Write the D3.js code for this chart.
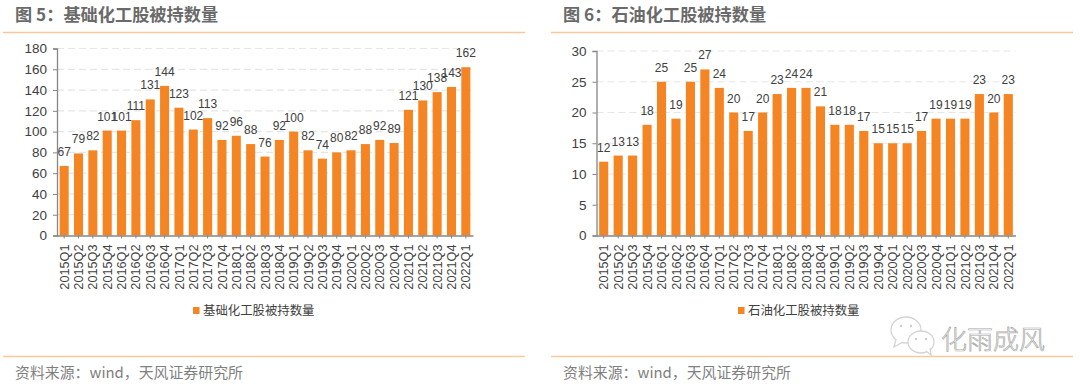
<!DOCTYPE html>
<html>
<head>
<meta charset="utf-8">
<script src="https://cdn.jsdelivr.net/npm/d3@7/dist/d3.min.js"></script>
<style>
  html, body { margin: 0; padding: 0; background: #fff; }
  svg { display: block; }
  text { font-family: "Liberation Sans", Arial, sans-serif; }
  .cjk { font-family: "Noto Sans CJK SC", sans-serif; }
</style>
</head>
<body>
<svg id="chart" width="1080" height="386"></svg>
<script>
var quarters = ["2015Q1","2015Q2","2015Q3","2015Q4","2016Q1","2016Q2","2016Q3","2016Q4",
  "2017Q1","2017Q2","2017Q3","2017Q4","2018Q1","2018Q2","2018Q3","2018Q4",
  "2019Q1","2019Q2","2019Q3","2019Q4","2020Q1","2020Q2","2020Q3","2020Q4",
  "2021Q1","2021Q2","2021Q3","2021Q4","2022Q1"];
var basicChem = [67,79,82,101,101,111,131,144,123,102,113,92,96,88,76,92,100,82,74,80,82,88,92,89,121,130,138,143,162];
var oilChem = [12,13,13,18,25,19,25,27,24,20,17,20,23,24,24,21,18,18,17,15,15,15,17,19,19,19,23,20,23];
var basicTicks = [0,20,40,60,80,100,120,140,160,180];
var oilTicks = [0,5,10,15,20,25,30];

var ORANGE = "#f58423";
var RULE = "#fbc79d";
var svg = d3.select("#chart");

function drawPanel(o) {
  // title and the two rules
  svg.append("text").attr("class", "cjk")
    .attr("x", o.ruleX0 + 12).attr("y", 21)
    .attr("font-size", 17.2).attr("font-weight", 700).attr("fill", "#6a6a6a")
    .text(o.title);
  [32, 356].forEach(function(y) {
    svg.append("line")
      .attr("x1", o.ruleX0).attr("x2", o.ruleX1)
      .attr("y1", y + 0.5).attr("y2", y + 0.5)
      .attr("stroke", RULE).attr("stroke-width", 1.4);
  });
  svg.append("text").attr("class", "cjk")
    .attr("x", o.ruleX0 + 12).attr("y", 378)
    .attr("font-size", 14.9).attr("fill", "#7f7f7f")
    .text("资料来源：wind，天风证券研究所");

  var x = d3.scaleBand().domain(quarters).range([o.left, o.right]).paddingInner(0.37).paddingOuter(0.185);
  var y = d3.scaleLinear().domain([0, o.max]).range([235.5, o.top]);

  var g = svg.append("g");

  // dashed grid
  g.selectAll(".grid").data(o.ticks.slice(1)).enter().append("line")
    .attr("x1", o.left).attr("x2", o.right)
    .attr("y1", function(d) { return y(d); })
    .attr("y2", function(d) { return y(d); })
    .attr("stroke", "#e6e6e6").attr("stroke-width", 1.2)
    .attr("stroke-dasharray", "7,4");

  // bars
  g.selectAll(".bar").data(o.values).enter().append("rect")
    .attr("x", function(d, i) { return x(quarters[i]); })
    .attr("y", function(d) { return y(d); })
    .attr("width", x.bandwidth())
    .attr("height", function(d) { return y(0) - y(d); })
    .attr("fill", ORANGE);

  // value labels
  g.selectAll(".val").data(o.values).enter().append("text")
    .attr("x", function(d, i) { return x(quarters[i]) + x.bandwidth() / 2; })
    .attr("y", function(d) { return y(d) - 10; })
    .attr("text-anchor", "middle")
    .attr("font-size", 12).attr("fill", "#404040")
    .text(function(d) { return d; });

  // axes
  var yAxis = g.append("g").attr("transform", "translate(" + o.left + ",0)")
    .call(d3.axisLeft(y).tickValues(o.ticks).tickSize(4).tickPadding(6));
  var xAxis = g.append("g").attr("transform", "translate(0,235.5)")
    .call(d3.axisBottom(x).tickSize(3).tickSizeOuter(0));
  yAxis.selectAll("text").attr("font-size", 13.5).attr("font-family", null).attr("fill", "#404040");
  xAxis.selectAll("text")
    .attr("font-size", 12.7).attr("font-family", null).attr("fill", "#404040")
    .attr("text-anchor", "end")
    .attr("transform", "rotate(-90)")
    .attr("x", -9).attr("y", 0).attr("dy", "0.36em");
  g.selectAll(".domain").attr("stroke", "#868686").attr("stroke-width", 1.3);
  g.selectAll(".tick line").attr("stroke", "#868686");

  // legend
  svg.append("rect").attr("x", o.legendX).attr("y", 307).attr("width", 6.5).attr("height", 7).attr("fill", ORANGE);
  svg.append("text").attr("class", "cjk")
    .attr("x", o.legendX + 10).attr("y", 315)
    .attr("font-size", 12.4).attr("fill", "#404040")
    .text(o.legend);
}

drawPanel({
  title: "图 5：基础化工股被持数量", legend: "基础化工股被持数量",
  values: basicChem, ticks: basicTicks, max: 180,
  left: 57, right: 473, top: 48.5, ruleX0: 3, ruleX1: 525, legendX: 193
});
drawPanel({
  title: "图 6：石油化工股被持数量", legend: "石油化工股被持数量",
  values: oilChem, ticks: oilTicks, max: 30,
  left: 596.5, right: 1015.5, top: 51, ruleX0: 551, ruleX1: 1073, legendX: 738
});

// watermark
var wm = svg.append("g").attr("fill", "#fff").attr("stroke", "#d4d4d4").attr("stroke-width", 1.3);
wm.append("ellipse").attr("cx", 906).attr("cy", 330).attr("rx", 15).attr("ry", 13);
wm.append("path").attr("d", "M896 339 L894 347 L903 342");
wm.append("ellipse").attr("cx", 921).attr("cy", 342).attr("rx", 13).attr("ry", 11);
wm.append("path").attr("d", "M926 351 L931 355 L930 348");
[[901, 326], [911, 326], [916, 339], [926, 339]].forEach(function(p) {
  wm.append("circle").attr("cx", p[0]).attr("cy", p[1]).attr("r", 1.2).attr("fill", "#ccc").attr("stroke", "none");
});
svg.append("text").attr("class", "cjk")
  .attr("x", 941).attr("y", 349)
  .attr("font-size", 26).attr("font-weight", 300)
  .attr("fill", "#fff").attr("stroke", "#a8a8a8").attr("stroke-width", 0.7)
  .text("化雨成风");
</script>
</body>
</html>
